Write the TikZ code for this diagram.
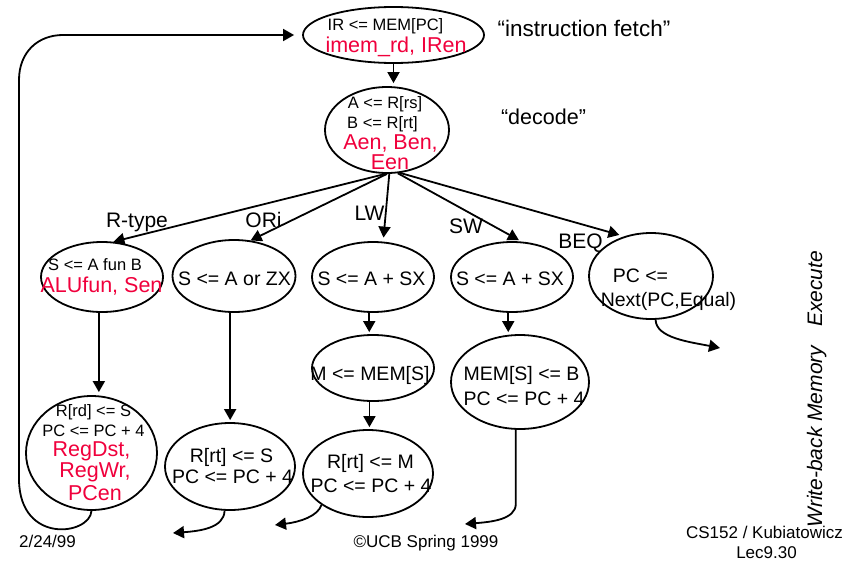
\documentclass[tikz,border=0pt]{standalone}
\usepackage{fontspec}
\setmainfont{Liberation Sans}
\usetikzlibrary{arrows.meta,shapes.geometric}
\definecolor{sigred}{RGB}{240,0,60}
\begin{document}
\begin{tikzpicture}[x=1pt,y=-1pt,
  st/.style={draw,ellipse,line width=1.8pt,inner sep=0pt},
  ln/.style={line width=1.8pt},
  arr/.style={line width=1.8pt,-{Triangle[length=11pt,width=12pt]}},
  tx/.style={inner sep=0pt,anchor=base},
  sm/.style={tx,font=\fontsize{16.5}{18}\selectfont},
  md/.style={tx,font=\fontsize{19.5}{21}\selectfont},
  rd/.style={tx,text=sigred,font=\fontsize{21.5}{23}\selectfont},
  lb/.style={tx,font=\fontsize{21}{23}\selectfont},
  ft/.style={tx,font=\fontsize{17}{19}\selectfont},
  side/.style={inner sep=0pt,anchor=base west,rotate=90,font=\fontsize{21}{23}\selectfont\itshape}]
\useasboundingbox (0,0) rectangle (846,562);

% states
\node[st,minimum width=181pt,minimum height=56pt] (fetch) at (393.5,35) {};
\node[st,minimum width=124pt,minimum height=86pt] (dec) at (387,130) {};
\node[st,minimum width=122pt,minimum height=70pt] (rtx) at (102,277) {};
\node[st,minimum width=123pt,minimum height=72pt] (orx) at (234,276) {};
\node[st,minimum width=122pt,minimum height=70pt] (lwx) at (373,277) {};
\node[st,minimum width=122pt,minimum height=70pt] (swx) at (512,277) {};
\node[st,minimum width=124pt,minimum height=86pt] (beq) at (651,276) {};
\node[st,minimum width=122pt,minimum height=66pt] (lwm) at (373,368) {};
\node[st,minimum width=138pt,minimum height=94pt] (swm) at (520,382) {};
\node[st,minimum width=131pt,minimum height=114pt] (rwb) at (91.5,453) {};
\node[st,minimum width=130pt,minimum height=87pt] (owb) at (230,466.5) {};
\node[st,minimum width=130pt,minimum height=87pt] (lwb) at (368,473.5) {};

% state texts
\node[sm] (f1) at (385.5,30) {IR <= MEM[PC]};
\node[rd] (f2) at (396,52) {imem\_rd, IRen};
\node[sm] (d1) at (385,108) {A <= R[rs]};
\node[sm] (d2) at (382.5,128) {B <= R[rt]};
\node[rd] (d3) at (390.5,149) {Aen, Ben,};
\node[rd] (d4) at (390,169.5) {Een};
\node[sm] (r1) at (95,270) {S <= A fun B};
\node[rd] (r2) at (101.5,292) {ALUfun, Sen};
\node[md] (o1t) at (234.5,285) {S <= A or ZX};
\node[md] (l1t) at (371.5,285) {S <= A + SX};
\node[md] (s1t) at (510,285) {S <= A + SX};
\node[md] (b1t) at (640.5,282) {PC <=};
\node[md] (b2t) at (668.5,306) {Next(PC,Equal)};
\node[md] (m1t) at (370,380) {M <= MEM[S]};
\node[md] (m2t) at (521.5,380) {MEM[S] <= B};
\node[md] (m3t) at (524,405) {PC <= PC + 4};
\node[sm] (w1) at (93.5,416) {R[rd] <= S};
\node[sm] (w2) at (93.5,436) {PC <= PC + 4};
\node[rd] (w3) at (91.5,456.5) {RegDst,};
\node[rd] (w4) at (95,477) {RegWr,};
\node[rd] (w5) at (95,500.5) {PCen};
\node[md] (w6) at (231.5,462) {R[rt] <= S};
\node[md] (w7) at (232.5,483) {PC <= PC + 4};
\node[md] (w8) at (370.5,468) {R[rt] <= M};
\node[md] (w9) at (371,492) {PC <= PC + 4};

% edge labels and notes
\node[lb] (lrt) at (137,227) {R-type};
\node[lb] (lor) at (263.5,227) {ORi};
\node[lb] (llw) at (369.5,220) {LW};
\node[lb] (lsw) at (466,233) {SW};
\node[lb] (lbq) at (580.5,248) {BEQ};
\node[lb,font=\fontsize{22.5}{24}\selectfont] (nif) at (584,36) {“instruction fetch”};
\node[lb,font=\fontsize{21.5}{23}\selectfont] (nde) at (543.5,124) {“decode”};
\node[side] (sex) at (822,327) {Execute};
\node[side] (swb) at (822,528) {Write-back Memory};

% footer
\node[ft] (ft1) at (47.5,547) {2/24/99};
\node[ft] (ft2) at (426,547) {©UCB Spring 1999};
\node[ft] (ft3) at (764.5,538) {CS152 / Kubiatowicz};
\node[ft] (ft4) at (766.5,558) {Lec9.30};

% free ends
\coordinate (oe) at (173,533);
\coordinate (le) at (275,525);
\coordinate (se) at (465,524);
\coordinate (be) at (720,348);

% connectors
\draw[arr,shorten >=3pt] (fetch.south) -- (fetch.south |- dec.north);
\draw[arr] (dec.-92) -- (rtx.72);
\draw[arr] (dec.-90) -- (orx.65);
\draw[arr,shorten >=4pt] (dec.-87) -- (lwx.74);
\draw[arr,shorten >=3pt] (dec.-76) -- (swx.75);
\draw[arr,shorten >=5pt] (dec.-73) -- (beq.124);

\draw[arr,shorten >=3pt] (rtx.-95) -- (rtx.-95 |- rwb.north);
\draw[arr,shorten >=2pt] (orx.-96) -- (orx.-96 |- owb.north);
\draw[arr,shorten >=2pt] (lwx.-96) -- (lwx.-96 |- lwm.north);
\draw[arr,shorten >=2pt] (lwm.-96) -- (lwm.-96 |- lwb.north);
\draw[arr,shorten >=2pt] (swx.-96) -- (swx.-96 |- swm.north);

\draw[arr,shorten >=8pt] (rwb.-90) .. controls (90,535) and (20,545) .. (19,480)
  -- (19,80) .. controls (19,52) and (38,35) .. (63,35) -- (fetch.west);
\draw[arr] (owb.-97) .. controls (224,528) and (200,531) .. (oe);
\draw[arr] (lwb.214) .. controls (318,516) and (300,522) .. (le);
\draw[arr] (swm.-95) -- ++(0,74) .. controls +(0,16) and +(25,-2) .. (se);
\draw[arr] (beq.-84) .. controls (656,338) and (690,342) .. (be);
\end{tikzpicture}
\end{document}
